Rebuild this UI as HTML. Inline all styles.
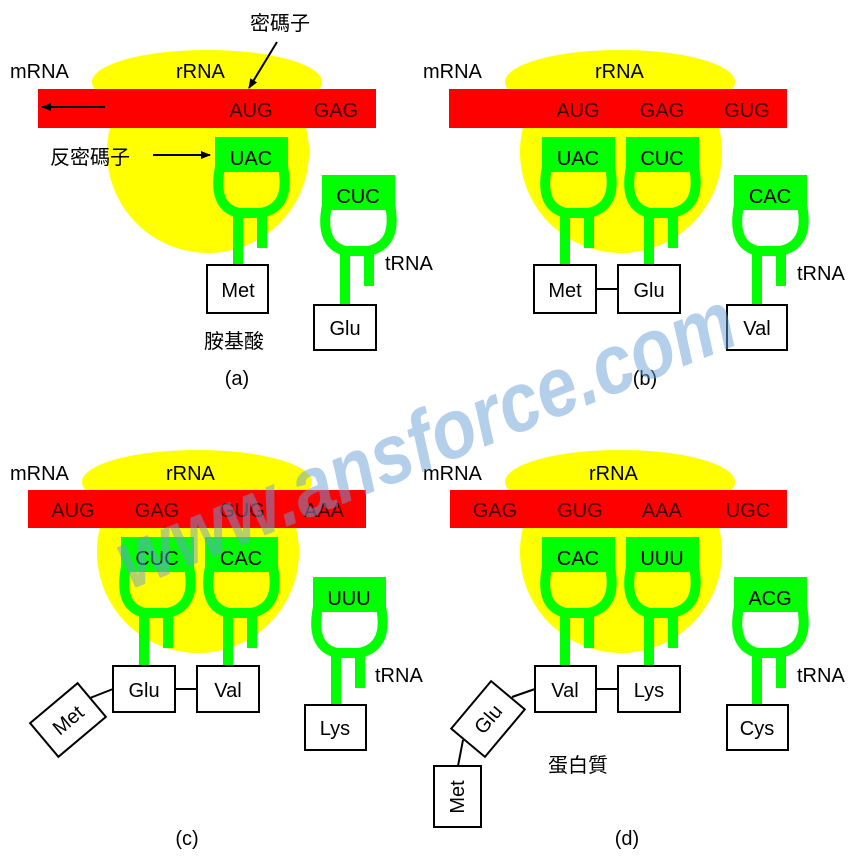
<!DOCTYPE html>
<html><head><meta charset="utf-8"><style>
html,body{margin:0;padding:0;background:#fff}
svg text{font-family:"Liberation Sans","Noto Sans CJK TC",sans-serif}
</style></head><body>
<svg width="860" height="860" viewBox="0 0 860 860" xmlns="http://www.w3.org/2000/svg">
<defs>
<marker id="ar" markerWidth="10" markerHeight="8" refX="9" refY="4" orient="auto" markerUnits="userSpaceOnUse"><path d="M0,0 L10,4 L0,8 z" fill="#000"/></marker>
<g id="t">
<rect x="0" y="0" width="73" height="35" fill="#00ff00"/>
<path d="M5,30 Q-3,70 24,76 L46,76 Q76,70 68,30" fill="none" stroke="#00ff00" stroke-width="10"/>
<rect x="42" y="74" width="10" height="37" fill="#00ff00"/>
</g>
</defs>
<g fill="#ffff00">
<ellipse cx="207" cy="82" rx="115" ry="32"/><circle cx="208" cy="152" r="101"/>
<ellipse cx="620" cy="82" rx="115" ry="32"/><circle cx="621" cy="152" r="101"/>
<ellipse cx="197" cy="482" rx="115" ry="32"/><circle cx="198" cy="552" r="101"/>
<ellipse cx="620" cy="482" rx="115" ry="32"/><circle cx="621" cy="552" r="101"/>
</g>
<g fill="#ff0000">
<rect x="38" y="89" width="338" height="39"/>
<rect x="449" y="89" width="338" height="39"/>
<rect x="28" y="490" width="338" height="38"/>
<rect x="450" y="490" width="337" height="38"/>
</g>
<g font-size="20" fill="#000">
<text x="10" y="78">mRNA</text><text x="176" y="78">rRNA</text>
<text x="423" y="78">mRNA</text><text x="595" y="78">rRNA</text>
<text x="10" y="480">mRNA</text><text x="166" y="480">rRNA</text>
<text x="423" y="480">mRNA</text><text x="589" y="480">rRNA</text>
</g>
<g font-size="20" fill="#400000" text-anchor="middle">
<text x="251" y="117">AUG</text><text x="336" y="117">GAG</text>
<text x="578" y="117">AUG</text><text x="662" y="117">GAG</text><text x="747" y="117">GUG</text>
<text x="73" y="517">AUG</text><text x="157" y="517">GAG</text><text x="242" y="517">GUG</text><text x="324" y="517">AAA</text>
<text x="495" y="517">GAG</text><text x="580" y="517">GUG</text><text x="662" y="517">AAA</text><text x="748" y="517">UGC</text>
</g>
<line x1="105" y1="107" x2="42" y2="107" stroke="#000" stroke-width="2" marker-end="url(#ar)"/>
<line x1="277" y1="42" x2="249" y2="88" stroke="#000" stroke-width="2" marker-end="url(#ar)"/>
<line x1="153" y1="155" x2="210" y2="155" stroke="#000" stroke-width="2" marker-end="url(#ar)"/>
<text x="250" y="30" font-size="20">密碼子</text>
<text x="50" y="164" font-size="20">反密碼子</text>

<g fill="#00ff00">
<use href="#t" x="215" y="137"/><rect x="233" y="210" width="10" height="55"/>
<use href="#t" x="322" y="175"/><rect x="340" y="248" width="10" height="57"/>
<use href="#t" x="542" y="137"/><rect x="560" y="210" width="10" height="55"/>
<use href="#t" x="626" y="137"/><rect x="644" y="210" width="10" height="55"/>
<use href="#t" x="734" y="175"/><rect x="752" y="248" width="10" height="57"/>
<use href="#t" x="121" y="537"/><rect x="139" y="610" width="10" height="56"/>
<use href="#t" x="205" y="537"/><rect x="223" y="610" width="10" height="56"/>
<use href="#t" x="313" y="577"/><rect x="331" y="650" width="10" height="55"/>
<use href="#t" x="542" y="537"/><rect x="560" y="610" width="10" height="56"/>
<use href="#t" x="626" y="537"/><rect x="644" y="610" width="10" height="56"/>
<use href="#t" x="734" y="577"/><rect x="752" y="650" width="10" height="55"/>
</g>
<g font-size="20" fill="#000" text-anchor="middle">
<text x="251" y="165">UAC</text><text x="358" y="203">CUC</text>
<text x="578" y="165">UAC</text><text x="662" y="165">CUC</text><text x="770" y="203">CAC</text>
<text x="157" y="565">CUC</text><text x="241" y="565">CAC</text><text x="349" y="605">UUU</text>
<text x="578" y="565">CAC</text><text x="662" y="565">UUU</text><text x="770" y="605">ACG</text>
</g>
<g font-size="20" fill="#000">
<text x="385" y="270">tRNA</text><text x="797" y="280">tRNA</text>
<text x="375" y="682">tRNA</text><text x="797" y="682">tRNA</text>
<text x="204" y="348">胺基酸</text><text x="548" y="772">蛋白質</text>
</g>
<g fill="#fff" stroke="#000" stroke-width="2">
<rect x="207" y="265" width="61" height="48"/><rect x="314" y="305" width="62" height="45"/>
<rect x="534" y="265" width="62" height="48"/><rect x="618" y="265" width="62" height="48"/><rect x="727" y="305" width="60" height="45"/>
<rect x="113" y="666" width="62" height="46"/><rect x="197" y="666" width="62" height="46"/><rect x="305" y="705" width="61" height="45"/>
<rect x="535" y="666" width="61" height="46"/><rect x="618" y="666" width="62" height="46"/><rect x="727" y="705" width="61" height="45"/>
<rect x="434" y="766" width="47" height="61"/>
<rect x="-31" y="-22" width="62" height="44" transform="translate(68,720) rotate(-40)"/>
<rect x="-31" y="-22" width="62" height="44" transform="translate(488,719) rotate(-50)"/>
</g>
<g stroke="#000" stroke-width="2">
<line x1="596" y1="289" x2="618" y2="289"/>
<line x1="175" y1="689" x2="197" y2="689"/>
<line x1="596" y1="689" x2="618" y2="689"/>
<line x1="90" y1="698" x2="113" y2="689"/>
<line x1="512" y1="697" x2="535" y2="689"/>
<line x1="463" y1="740" x2="458" y2="766"/>
</g>
<g font-size="20" fill="#000" text-anchor="middle">
<text x="238" y="297">Met</text><text x="345" y="335">Glu</text>
<text x="565" y="297">Met</text><text x="649" y="297">Glu</text><text x="757" y="335">Val</text>
<text x="144" y="697">Glu</text><text x="228" y="697">Val</text><text x="335" y="735">Lys</text>
<text x="565" y="697">Val</text><text x="649" y="697">Lys</text><text x="757" y="735">Cys</text>
<text transform="translate(68,720) rotate(-40)" y="7">Met</text>
<text transform="translate(488,719) rotate(-50)" y="7">Glu</text>
<text transform="translate(457,797) rotate(-90)" y="7">Met</text>
<text x="237" y="385">(a)</text><text x="645" y="385">(b)</text>
<text x="187" y="845">(c)</text><text x="627" y="845">(d)</text>
</g>
<text x="0" y="0" transform="translate(130,590) rotate(-22)" font-size="84" font-style="italic" font-weight="bold" fill="#6a9fd6" fill-opacity="0.5" textLength="660" lengthAdjust="spacingAndGlyphs">www.ansforce.com</text>
</svg>
</body></html>
